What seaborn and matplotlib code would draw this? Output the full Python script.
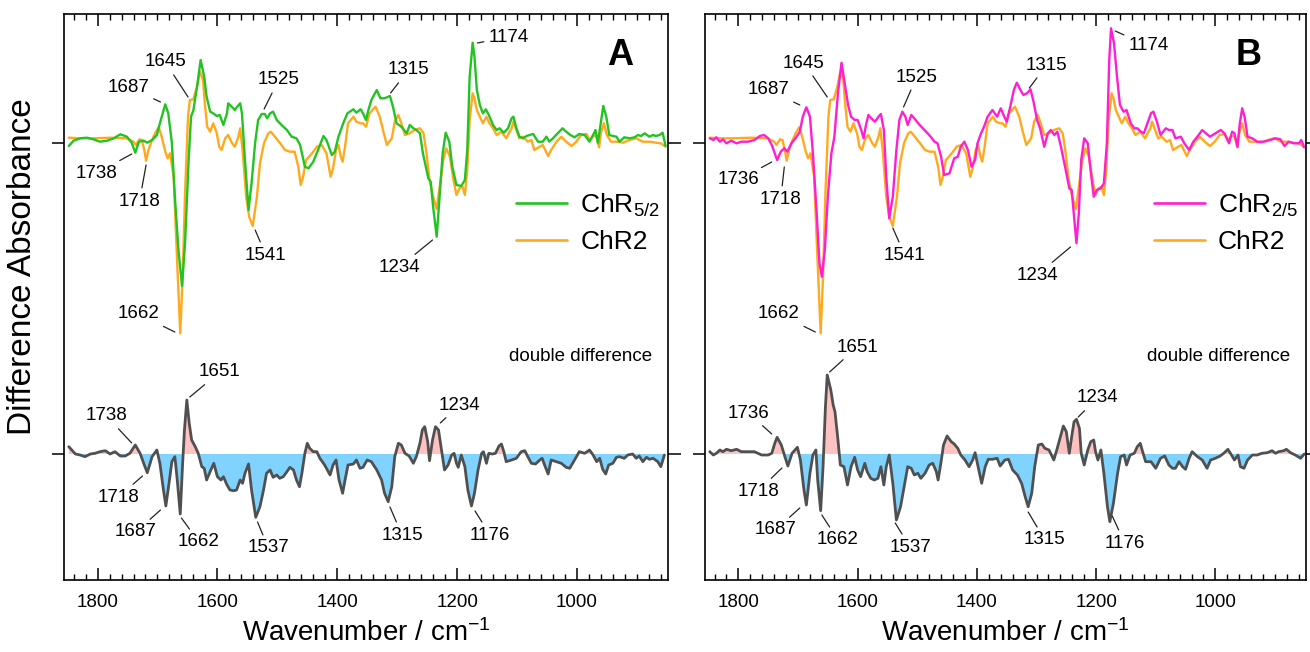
import numpy as np
import pandas as pd
import matplotlib
matplotlib.use("Agg")
import matplotlib.pyplot as plt
from matplotlib.lines import Line2D
from matplotlib.ticker import MultipleLocator
import seaborn as sns

# ---------------- data ----------------
# ChR5/2 light-minus-dark difference spectrum (panel A, green)
CHR52_WN = [1848,1840,1829,1818,1807,1796,1784,1773,1762,1751,1743,1737,1731,1723,1717,1709,1701,1696,1687,1682,
            1676,1671,1665,1659,1654,1648,1644,1640,1634,1628,1622,1618,1612,1607,1601,1596,1590,1584,1582,1576,
            1571,1567,1562,1559,1554,1548,1543,1537,1532,1526,1521,1517,1512,1507,1501,1493,1484,1476,1468,1462,
            1454,1448,1440,1432,1423,1418,1409,1404,1398,1390,1383,1373,1368,1361,
            1357,1352,1348,1343,1334,1328,1321,1312,1307,1301,1293,1284,1279,1273,1268,1262,1257,1248,1244,1240,
            1234,1230,1224,1219,1213,1208,1201,1193,1187,1183,1179,1174,1171,1167,1162,1157,1152,1147,1140,1134,
            1129,1122,1115,1109,1106,1101,1096,1090,1084,1079,1073,1065,1057,1051,1046,1040,1032,1024,1018,1011,
            1004,996,987,979,973,969,965,961,956,951,946,940,934,929,921,912,904,898,893,887,
            879,873,868,862,857,852]
CHR52_VAL = [-3,2.3,4.7,5.3,3.7,1.3,2.3,4.7,8.7,6.3,0.3,-9.7,1.3,2.3,0.3,3,8,19.7,38.7,29.7,
             0.3,-53.7,-107,-143,-100.3,-17,26.3,33,56.3,83,66.3,46.3,31.3,29.7,27,28,18,29.7,39.7,36.3,
             33,36.3,39.7,29.7,-17,-67,-40.3,0.3,23,29,29,24.7,29.7,31.3,23,18,13,6.3,4.7,-2,
             -23.7,-25.3,-18.7,-7,7,3,-12,-8.7,6.3,19.7,29.7,33.7,30.3,33.7,
             29.7,23,33,43,53,44.7,44.7,47,36.3,19.7,16.3,9.7,18,14.7,13,9.7,-10.3,-35.3,-38.7,-63.7,
             -93.7,-60.3,-10.3,10.3,1.3,-23.7,-42,-43,-37,-7,66.3,100.3,86.3,53,38,29.7,33.7,28,18,13,
             14.7,10.3,14.7,24.7,26.3,14.7,6.3,4.7,7,8,9,1.3,1.3,6.3,1.3,4.7,9.7,14.7,11.3,8,
             5.7,9,8,1.3,8,13,0.3,16.3,37,26.3,8,7,6.3,1.3,5.7,4.7,5.7,8,7,9.7,
             6.3,8,7,8,10.3,-3]

# ChR2 difference spectrum (orange, both panels)
CHR2_WN = [1848,1829,1807,1779,1751,1740,1736,1730,1726,1722,1719,1715,1709,1704,1698,1693,1687,1683,1679,1673,
           1668,1662,1658,1654,1649,1646,1640,1634,1629,1624,1621,1617,1612,1607,1601,1597,1593,1587,1582,1576,
           1571,1565,1562,1558,1552,1547,1541,1534,1529,1522,1515,1511,1504,1496,1487,1479,1471,1465,1461,1457,
           1452,1447,1440,1434,1426,1418,1411,1407,1402,1398,1394,1391,1387,1382,1373,1368,1361,
           1357,1352,1346,1336,1329,1323,1317,1309,1304,1298,1293,1287,1279,1271,1262,1256,1251,1246,1240,1234,
           1229,1223,1218,1212,1206,1201,1196,1191,1187,1183,1179,1174,1171,1167,1162,1157,1151,1146,1140,1134,
           1126,1118,1109,1106,1101,1096,1090,1082,1076,1071,1062,1057,1048,1043,1034,1026,1018,1009,1001,993,
           984,979,973,968,963,960,955,950,943,934,923,912,901,890,879,868,860,852]
CHR2_VAL = [5.3,4.7,4.7,5.3,4.7,1.3,-2,3.7,3,-7,-17.7,-7,3,9.7,15.7,6.3,-8.7,-15.3,-10.3,-33.7,
            -107,-190.3,-133.7,-50.3,26.3,43,43.7,56.3,71.3,63,39.7,16.3,11.3,19.7,9.7,-3.7,-7,4.7,8,0.3,
            -3.7,6.3,14.7,-7,-53.7,-73.7,-83,-53.7,-20.3,0.3,9.7,11.3,6.3,0.3,-7,-8.7,-8.7,-23.7,-42,-33.7,
            -17,-13.7,-8.7,-3.7,-2,-10.3,-33.7,-25.3,-7,-2,-13.7,-18.7,-3.7,19.7,26.3,21.3,19.7,
            19.7,16.3,29.7,36.3,26.3,11.3,-2,4.7,21.3,28,19.7,8,9.7,13,14.7,9.7,-10.3,-37,-53.7,-66,
            -43.7,-17,-5.3,-13.7,-37,-52,-45.3,-43.7,-52,-27,23,49.7,44.7,33,26.3,19.7,26.3,19.7,14.7,8,
            11.3,4.7,14.7,21.3,13,4.7,6.3,1.3,3,-7,-3.7,-2,-13,-7,1.3,6.3,1.3,-3,1.3,8,
            9,3,7,7,-4.3,9.7,19.7,8,1.3,1.3,0.3,3,4.7,1.3,1.3,0.3,-0.3,-3.7]

# double difference, panel A
DDA_WN = [1848,1843,1837,1829,1821,1812,1804,1796,1787,1779,1771,1762,1754,1746,1737,1729,1722,1717,1709,1701,
          1696,1690,1686,1680,1676,1671,1667,1662,1658,1655,1651,1647,1643,1637,1632,1626,1622,1618,1611,1606,
          1600,1594,1590,1584,1579,1573,1568,1562,1558,1554,1548,1543,1536,1529,1523,1518,1512,1507,1501,1496,
          1490,1484,1479,1473,1468,1463,1459,1454,1450,1446,1440,1434,1429,1421,1412,1407,1402,1397,1391,1387,
          1382,1373,1368,1362,
          1357,1350,1343,1334,1326,1321,1315,1309,1304,1298,1293,1287,1280,1273,1268,1262,1258,1254,1249,1246,
          1241,1236,1231,1226,1221,1215,1209,1205,1201,1198,1193,1187,1182,1176,1171,1165,1159,1156,1151,1147,
          1141,1136,1130,1126,1122,1118,1109,1101,1093,1087,1082,1076,1069,1062,1058,1054,1048,1043,1034,1026,
          1018,1012,1004,996,987,979,973,967,962,957,952,947,940,934,929,921,915,907,901,896,
          890,884,879,873,865,860,854]
DDA_VAL = [7.3,4,0,-1,-2.7,0,0.7,2.3,3.3,0,2.3,-2,-2,0.7,9,0.7,-11,-18.7,-2.7,4,
           -9.3,-36,-52,-26,-7.7,-2.7,-26,-60,-9.3,24,54,30.7,14,7.3,0.7,-12.7,-14.3,-26,-16,-9.3,
           -22.7,-26,-22.7,-31,-36,-36.7,-36,-26,-29.3,-19.3,-10,-36,-63.3,-52.7,-36,-19.3,-16,-23.3,-21,-24.3,
           -22.7,-17.7,-13.3,-16,-26,-32.7,-19.3,0.7,10.7,5.7,2.3,2.3,-4.3,-11,-21,-11,-6,-26,-39.3,-26,
           -11,-10,-6,-14.3,
           -13.3,-6,-7.7,-16,-26,-39.3,-47.7,-32.7,-2.7,10.7,9,0.7,-2,-9.3,-2.7,10.7,24,27.3,12.3,-6.7,
           14,27.3,24,4,-16,-11,-1,0.7,-9.3,-13.3,-1,-12.7,-36,-52,-39.3,-16,0.7,2.3,-9.3,0.7,
           0,0.7,8,10,2.3,-7.7,-6,-4.3,2.3,3.3,-2.7,-9.3,-10,-6,-4.3,-11,-20,-6,-7.7,-9.3,
           -13.3,-14.3,-6,2.3,0.7,4,-1,-7.7,-4.3,-15.3,-20,-11,-9.3,-3.3,-2.7,-4.3,-1,0,-4.3,-2,
           -7.7,-3.3,-5.3,-4.3,-7.7,-12.7,-1]

# ChR2/5 difference spectrum (panel B, magenta)
CHR25_WN = [1848,1842,1837,1831,1826,1820,1812,1803,1795,1784,1773,1764,1757,1750,1744,1739,1735,1729,1723,1718,
            1711,1703,1697,1692,1686,1680,1675,1669,1664,1660,1655,1650,1644,1639,1633,1627,1622,1616,1611,1605,
            1600,1594,1590,1586,1582,1577,1571,1565,1561,1556,1552,1547,1541,1535,1530,1525,1520,1516,1510,1505,
            1496,1488,1480,1471,1466,1460,1455,1446,1438,1432,1427,1421,1415,1409,1403,1399,1393,1388,1382,1374,
            1366,1360,
            1354,1350,1344,1338,1333,1327,1322,1316,1310,1305,1299,1294,1287,1281,1276,1270,1265,1259,1251,1245,
            1241,1237,1233,1229,1225,1220,1214,1210,1204,1199,1192,1187,1182,1178,1175,1170,1165,1160,1154,1149,
            1142,1136,1131,1125,1120,1114,1108,1104,1098,1092,1083,1078,1072,1067,1058,1052,1044,1037,1028,1022,
            1016,1009,1000,991,985,977,972,968,963,959,955,951,946,938,930,919,908,899,891,884,
            877,869,860,856,851]
CHR25_VAL = [4.7,3,5.7,1.3,3.7,-0.3,2.3,-0.3,1.3,1.3,3,7,8,4.7,-2,-10.3,-17,-8.7,-5.3,-8.7,
             -0.3,5.7,11.3,26.3,35.7,26.3,-10.3,-67,-120.3,-133.7,-107,-53.7,-10.3,6.3,49.7,80.3,61.3,38,26.3,23,
             23,13,4.7,18,28,24.7,21.3,26.3,29,13,-33.7,-75.3,-53.7,-7,23,31.3,26.3,18,28,24.7,
             18,13,8,1.3,-0.3,-13.7,-32,-30.3,-15.3,-13.7,-3.7,1.3,-7,-23.7,-17,-0.3,9.7,16.3,26.3,33,
             26.3,34.7,
             26.3,21.3,36.3,53,60.3,53,48,49.7,53.7,41.3,23,14.7,-3.7,9.7,13,8,11.3,-3.7,-27,-45.3,
             -47,-73.7,-100.3,-70.3,-17,4.7,-0.3,-23.7,-53.7,-47,-45.3,-40.3,-0.3,83,114.7,99.7,66.3,38,31.3,33,
             19.7,14.7,14.7,11.3,9.7,19.7,29.7,31.3,21.3,8,14.7,13,13,4.7,6.3,-0.3,-7,1.3,8,13,
             9.7,6.3,9.7,13,9.7,-0.3,11.3,9.7,-3.7,19.7,34.7,26.3,6.3,4.7,1.3,1.3,3,4.7,3.7,-3,
             1.3,-0.3,-0.3,3,-4.3]

# double difference, panel B
DDB_WN = [1848,1842,1837,1831,1826,1820,1812,1803,1795,1784,1773,1761,1750,1744,1739,1735,1728,1722,1717,1710,
          1701,1696,1690,1686,1680,1675,1670,1667,1662,1658,1654,1651,1645,1641,1638,1633,1629,1623,1617,1611,
          1605,1600,1595,1588,1584,1578,1572,1566,1561,1556,1552,1547,1541,1535,1528,1521,1516,1510,1505,1499,
          1494,1487,1480,1474,1468,1465,1460,1456,1450,1443,1438,1432,1427,1420,1413,1407,1403,1398,1392,1386,
          1381,1374,1366,1361,
          1353,1347,1340,1332,1325,1319,1314,1308,1303,1297,1291,1286,1279,1271,1266,1260,1255,1250,1245,1241,
          1237,1233,1228,1225,1220,1214,1209,1204,1201,1197,1192,1187,1181,1177,1171,1164,1159,1153,1149,1143,
          1136,1131,1126,1122,1117,1108,1100,1092,1085,1078,1072,1067,1061,1055,1050,1044,1039,1030,1022,1014,
          1008,1000,992,986,979,973,968,962,958,952,946,938,930,922,913,905,899,894,885,881,
          874,866,857,851]
DDB_VAL = [2.3,-1,0.7,4,2.3,4.7,3.3,4.7,2.3,2.3,2.3,-1,-1,0.7,10.7,16.7,9,-2.7,-12,0.7,
           6.7,-6,-36,-51,-19.3,-1,4,-26,-56.7,-12.7,47.3,79,64,49,42.3,14,-11,-12.7,-31,-12.7,
           -3.3,-16,-22.7,-9.3,-17.7,-24.3,-26,-24.3,-12.7,-31,-12.7,-1,-29.3,-66,-52.7,-29.3,-12.7,-14.3,-21,-19.3,
           -24.3,-19.3,-11,-9.3,-17.7,-26,-7.7,9,18,12.3,10,5.7,-1,-6,-12.7,-6,1.3,-12.7,-29.3,-12.7,
           -5.3,-5.3,-4.3,-12,
           -6,-5.3,-16,-21,-29.3,-42.7,-52.7,-39.3,-12.7,9,10,5.7,4,-6,4,17.3,28,22.3,0.7,17.3,
           32.3,34.7,25.7,0.7,-11,4,12.3,14,2.3,-6,4,-19.3,-52.7,-67.7,-49.3,-19.3,-2.7,-1,-11,-1,
           0.7,7.3,10.7,2.3,-7.7,-7.7,-14.3,-4.3,-2,-11,-14.3,-14.3,-7.7,-12.7,-15.3,-4.3,2.3,-2.7,-6,-14.3,
           -6,-4.3,-2,0.7,4.7,-1,-6,-1,-12.7,-14.3,-6,-1,-1,0.7,1.3,3.3,0.7,2.3,3.3,4.7,
           1.3,-1,-4.3,0]

X_TICKS = [1800, 1600, 1400, 1200, 1000]

# annotations: (label, text wavenumber, text value, leader-end wavenumber, leader-end value)
ANN_A_UP = [("1645", 1687, 392, 1649, 357), ("1687", 1749, 367, 1695, 352), ("1525", 1498, 374, 1522, 345),
            ("1738", 1801, 281, 1743, 300), ("1718", 1730, 253, 1719, 289), ("1541", 1519, 199, 1537, 224),
            ("1662", 1732, 140, 1671, 122), ("1315", 1281, 384, 1311, 361), ("1174", 1114, 417, 1166, 411),
            ("1234", 1296, 187, 1241, 214)]
ANN_A_DD = [("1651", 1596, 82, 1646, 57), ("1738", 1785, 38, 1743, 11), ("1718", 1765, -43, 1725, -22),
            ("1687", 1736, -78, 1695, -56), ("1662", 1631, -88, 1660, -64), ("1537", 1515, -94, 1533, -68),
            ("1234", 1196, 49, 1228, 31), ("1315", 1292, -81, 1312, -53), ("1176", 1145, -81, 1170, -57)]
ANN_B_UP = [("1645", 1690, 391, 1651, 357), ("1687", 1750, 364, 1697, 349), ("1525", 1501, 377, 1523, 347),
            ("1736", 1800, 274, 1744, 292), ("1718", 1729, 255, 1723, 287), ("1541", 1521, 199, 1541, 226),
            ("1662", 1732, 140, 1671, 122), ("1315", 1283, 389, 1312, 366), ("1174", 1112, 408, 1168, 423),
            ("1234", 1299, 179, 1243, 207)]
ANN_B_DD = [("1651", 1601, 107, 1647, 82), ("1736", 1783, 41, 1744, 20), ("1718", 1767, -37, 1727, -14),
            ("1687", 1738, -76, 1697, -54), ("1662", 1633, -86, 1660, -61), ("1537", 1512, -93, 1537, -69),
            ("1234", 1198, 56, 1230, 37), ("1315", 1286, -86, 1314, -58), ("1176", 1152, -89, 1173, -62)]

# ---------------- style ----------------
sns.set_theme(style="ticks")
plt.rcParams["font.family"] = ["Liberation Sans", "DejaVu Sans"]
plt.rcParams["mathtext.fontset"] = "custom"
plt.rcParams["mathtext.rm"] = "Liberation Sans"
plt.rcParams["mathtext.it"] = "Liberation Sans:italic"
plt.rcParams["mathtext.default"] = "regular"
plt.rcParams["text.color"] = "black"
plt.rcParams["axes.labelcolor"] = "black"
plt.rcParams["xtick.color"] = "black"
plt.rcParams["ytick.color"] = "black"

GREEN = "#22C322"
ORANGE = "#FFA91F"
MAGENTA = "#FF1ED2"
DARK = "#505050"
PINK = "#FFC2C2"
BLUE = "#80D2FF"
OFFSET = 311          # vertical offset of the upper spectra
XLIM = (1856, 848)
YLIM = (-126, 440)
ANN_FS = 13.5

fig = plt.figure(figsize=(13.10, 6.52), dpi=100)
axA = fig.add_axes([64 / 1310, 72 / 652, 604 / 1310, 566 / 652])
axB = fig.add_axes([705 / 1310, 72 / 652, 601 / 1310, 566 / 652])


def draw_panel(ax, var_wn, var_val, var_label, var_color, dd_wn, dd_val, ann_up, ann_dd, letter, letter_x, leg_x):
    chr2 = pd.DataFrame({"wn": CHR2_WN, "A": np.array(CHR2_VAL) + OFFSET})
    var = pd.DataFrame({"wn": var_wn, "A": np.array(var_val) + OFFSET})
    dd = pd.DataFrame({"wn": dd_wn, "A": dd_val})

    sns.lineplot(data=chr2, x="wn", y="A", ax=ax, color=ORANGE, lw=1.7, sort=False, estimator=None)
    sns.lineplot(data=var, x="wn", y="A", ax=ax, color=var_color, lw=1.7, sort=False, estimator=None)

    ddv = dd["A"].to_numpy()
    ax.fill_between(dd["wn"], ddv, 0, where=ddv >= 0, interpolate=True, color=PINK, lw=0)
    ax.fill_between(dd["wn"], ddv, 0, where=ddv <= 0, interpolate=True, color=BLUE, lw=0)
    sns.lineplot(data=dd, x="wn", y="A", ax=ax, color=DARK, lw=2.0, sort=False, estimator=None)

    ax.set_xlim(*XLIM)
    ax.set_ylim(*YLIM)
    ax.set_xticks(X_TICKS)
    ax.xaxis.set_minor_locator(MultipleLocator(20))
    ax.set_yticks([0, OFFSET])
    ax.set_yticklabels([])
    ax.tick_params(axis="x", which="major", direction="in", length=8.5, width=1.1, top=True, bottom=True,
                   labelsize=13.5, pad=10, colors="black")
    ax.tick_params(axis="x", which="minor", direction="in", length=4, width=1.0, top=True, bottom=True)
    ax.tick_params(axis="y", which="major", direction="out", length=9, width=1.1, left=True, right=True)
    for s in ax.spines.values():
        s.set_visible(True)
        s.set_linewidth(1.2)
        s.set_color("black")
    ax.set_xlabel("Wavenumber / cm$^{-1}$", fontsize=20, labelpad=6)
    ax.set_ylabel("")

    for lab, tx, ty, px, py in ann_up + ann_dd:
        ax.annotate(lab, xy=(px, py), xytext=(tx, ty), ha="center", va="center", fontsize=ANN_FS,
                    arrowprops=dict(arrowstyle="-", color="#222222", lw=0.9, shrinkA=1, shrinkB=0))

    ax.text(letter_x, 0.926, letter, transform=ax.transAxes, fontsize=26,
            fontweight="bold", ha="center", va="center")
    ax.text(0.973, 0.394, "double difference", transform=ax.transAxes, fontsize=13.5, ha="right", va="center")

    handles = [Line2D([], [], color=var_color, lw=1.9), Line2D([], [], color=ORANGE, lw=1.9)]
    ax.legend(handles, [var_label, "ChR2"], loc="upper left", bbox_to_anchor=(leg_x, 0.705), frameon=False,
              fontsize=19, handlelength=1.93, handletextpad=0.5, labelspacing=0.42, borderpad=0.4,
              borderaxespad=0)


draw_panel(axA, CHR52_WN, CHR52_VAL, "ChR$_{5/2}$", GREEN, DDA_WN, DDA_VAL, ANN_A_UP, ANN_A_DD, "A", 0.920, 0.731)
draw_panel(axB, CHR25_WN, CHR25_VAL, "ChR$_{2/5}$", MAGENTA, DDB_WN, DDB_VAL, ANN_B_UP, ANN_B_DD, "B", 0.904, 0.729)

axA.set_ylabel("Difference Absorbance", fontsize=24)
axA.yaxis.set_label_coords(-0.043, 0.553)

fig.savefig("out.png", dpi=100)
